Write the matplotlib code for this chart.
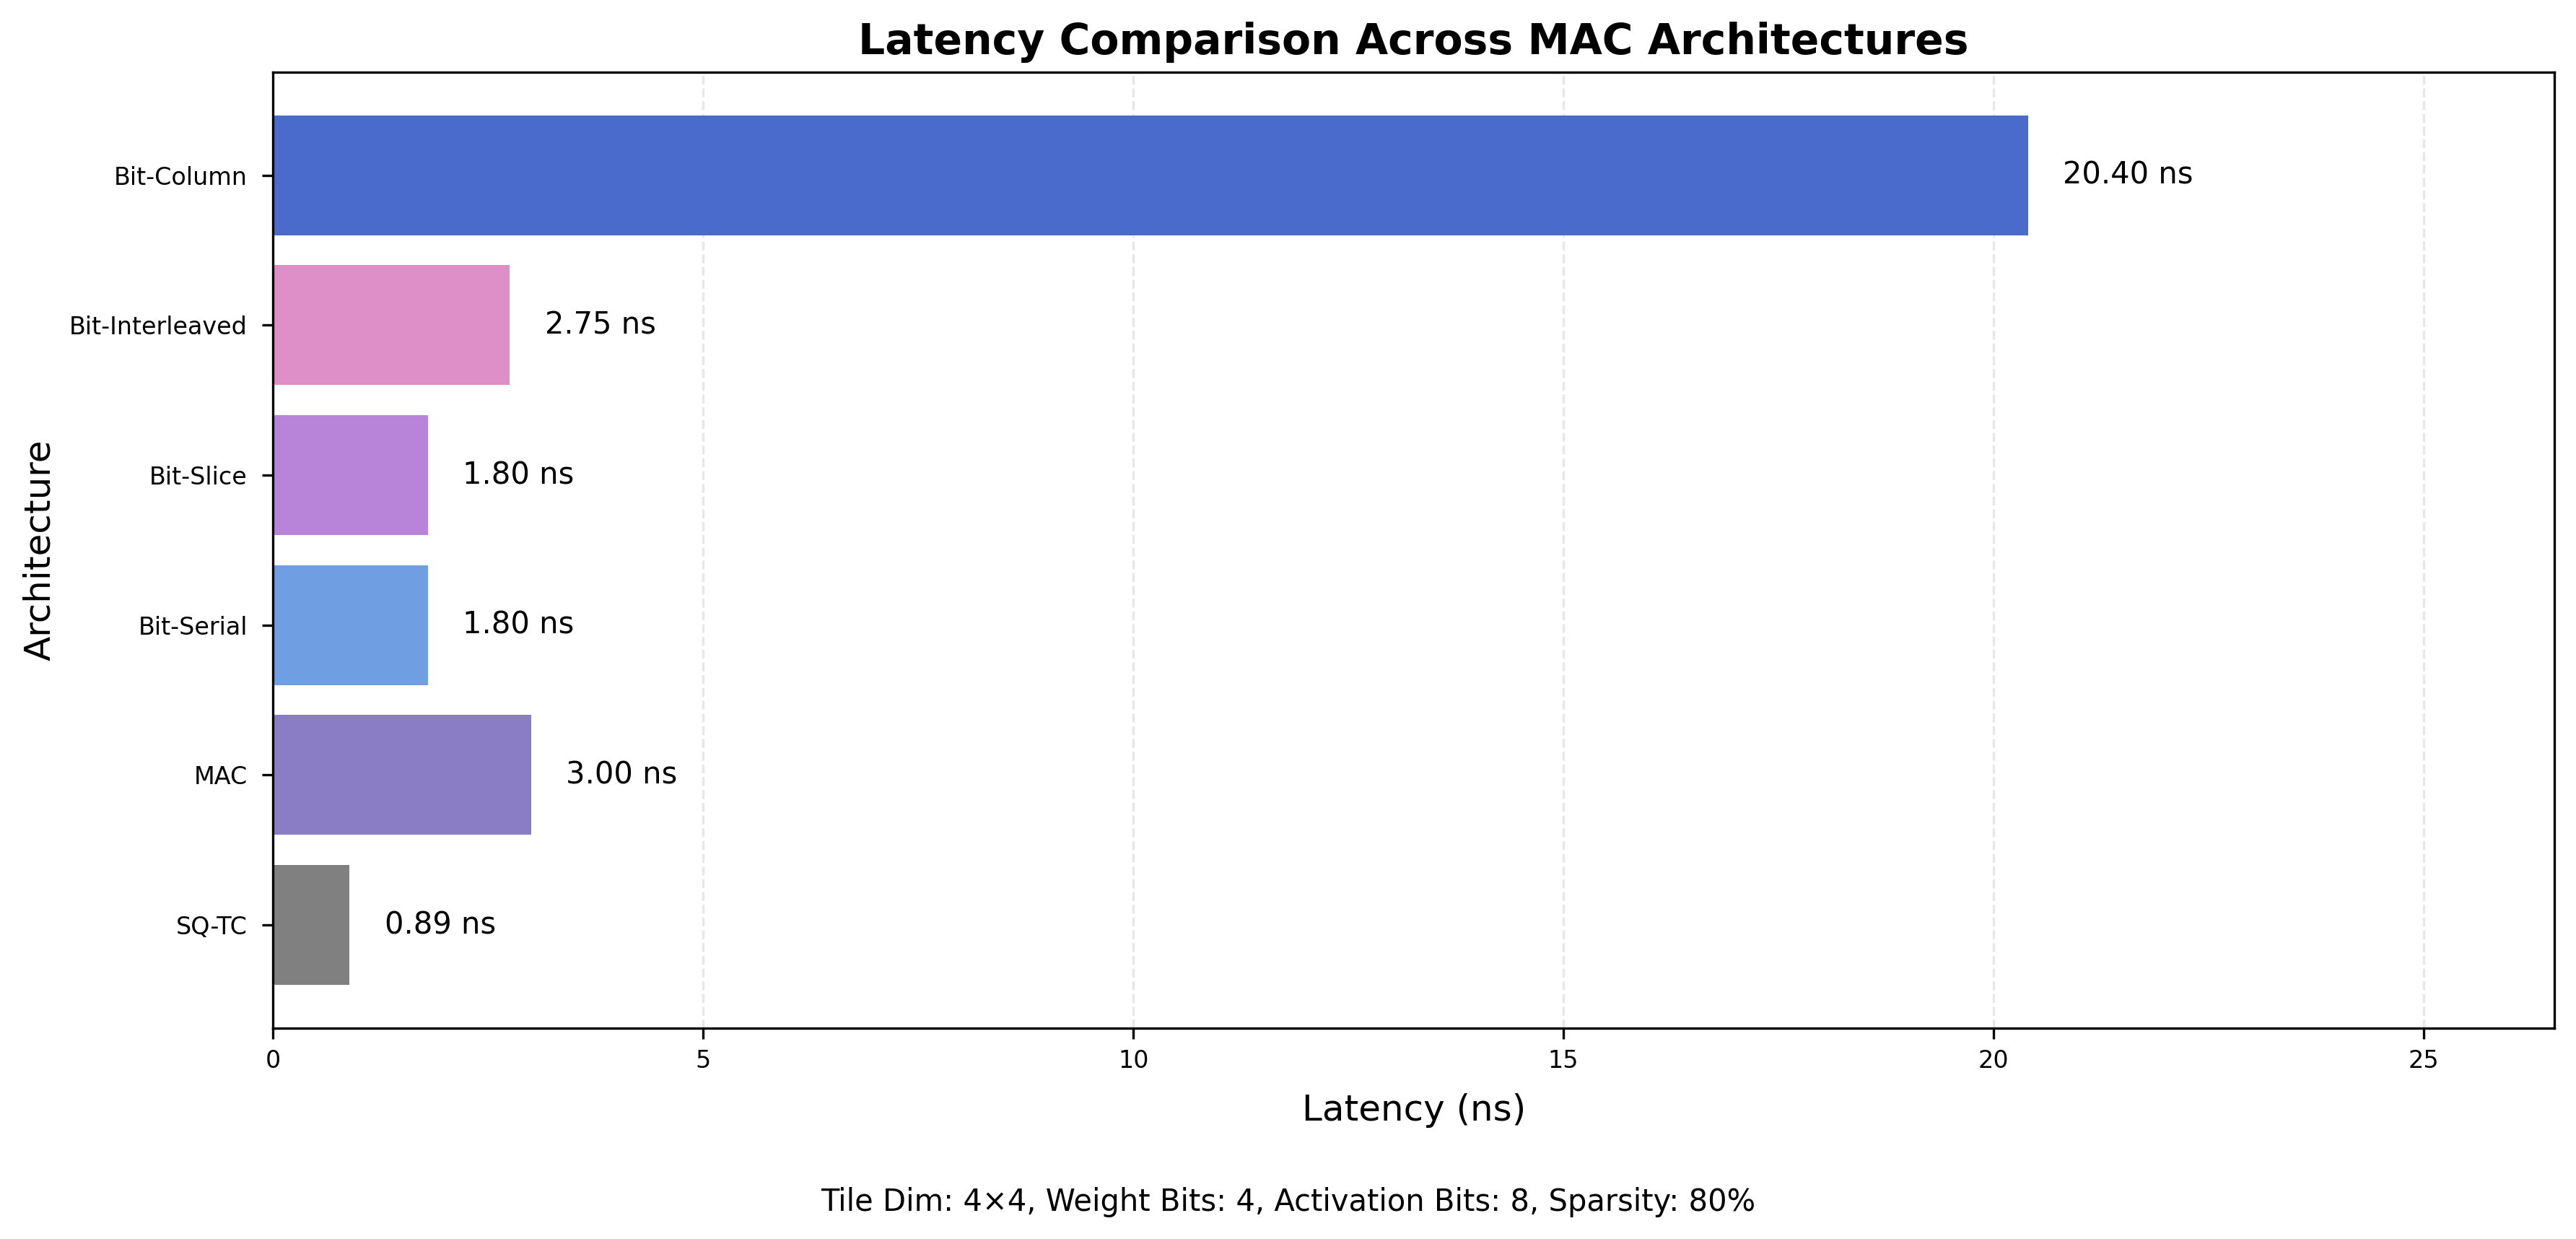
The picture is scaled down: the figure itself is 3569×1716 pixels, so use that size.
import numpy as np
import matplotlib
matplotlib.use('Agg')
import matplotlib.pyplot as plt

# Latency per architecture (bottom to top)
architectures = ['SQ-TC', 'MAC', 'Bit-Serial', 'Bit-Slice', 'Bit-Interleaved', 'Bit-Column']
latency_ns = [0.89, 3.00, 1.80, 1.80, 2.75, 20.40]
bar_colors = ['#808080', '#8b7cc6', '#6f9fe2', '#b784da', '#de8fc7', '#4a6bcb']

footer = 'Tile Dim: 4\u00d74, Weight Bits: 4, Activation Bits: 8, Sparsity: 80%'

fig = plt.figure(figsize=(3569 / 300, 1716 / 300), dpi=300)
ax = fig.add_axes([0.106, 0.170, 0.8856, 0.772])

y = np.arange(len(architectures))
ax.barh(y, latency_ns, color=bar_colors, height=0.8)

max_val = max(latency_ns)
for yi, v in zip(y, latency_ns):
    ax.text(v + max_val * 0.02, yi, f'{v:.2f} ns', va='center', ha='left', fontsize=10)

ax.set_yticks(y)
ax.set_yticklabels(architectures, fontsize=8)
ax.tick_params(axis='y', pad=5)
ax.tick_params(axis='x', labelsize=8)
ax.set_xlim(0, max_val * 1.3)
ax.xaxis.grid(True, linestyle='--', alpha=0.3)
ax.set_axisbelow(True)

ax.set_xlabel('Latency (ns)', fontsize=12, labelpad=6.5)
ax.set_ylabel('Architecture', fontsize=12)
ax.set_title('Latency Comparison Across MAC Architectures', fontsize=14, fontweight='bold')

fig.text(0.5, 0.03, footer, ha='center', va='center', fontsize=10)

fig.savefig('out.png', dpi=300)
